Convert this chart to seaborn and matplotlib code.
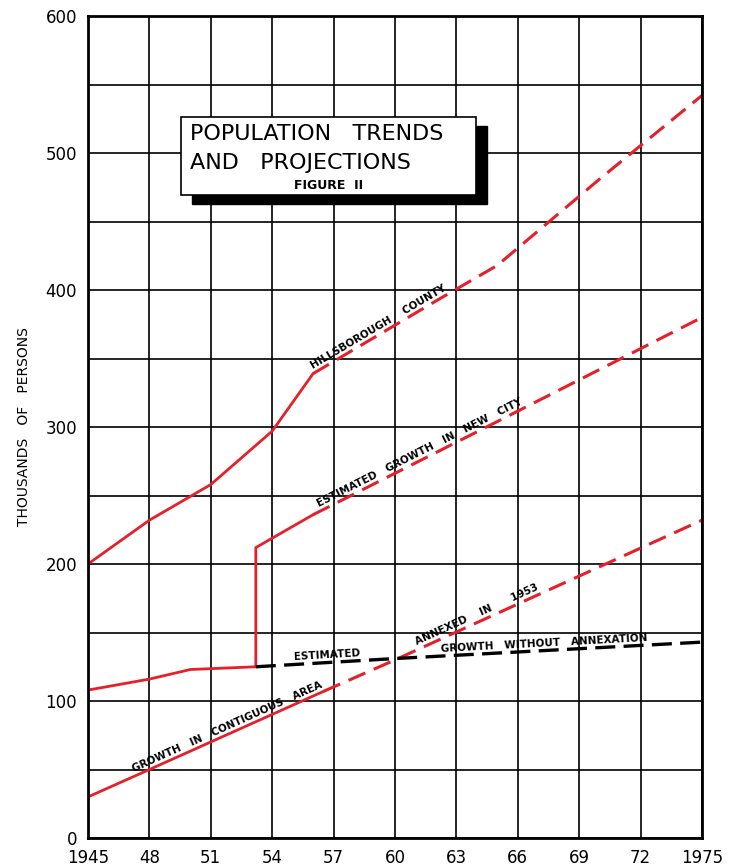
import numpy as np
import matplotlib
matplotlib.use("Agg")
import matplotlib.pyplot as plt
import seaborn as sns
from matplotlib.patches import Rectangle

# data (thousands of persons)
county_years = [1945, 1948, 1951, 1954, 1956]
county_pop = [200, 232, 258, 297, 339]
county_proj_years = [1956, 1962, 1965, 1970, 1975]
county_proj_pop = [339, 392, 418, 481, 542]

city_years = [1945, 1948, 1950, 1953.2, 1953.2, 1956]
city_pop = [108, 116, 123, 125, 212, 236]
city_proj_years = [1956, 1965, 1975]
city_proj_pop = [236, 304, 380]

noannex_years = [1953.2, 1960, 1975]
noannex_pop = [125, 131, 143]

contig_years = [1945, 1948, 1956.5]
contig_pop = [30, 50, 107]
contig_proj_years = [1956.5, 1960, 1975]
contig_proj_pop = [107, 130, 232]

x_ticks = list(range(1945, 1976, 3))
x_labels = ["1945", "48", "51", "54", "57", "60", "63", "66", "69", "72", "1975"]
y_ticks = [0, 100, 200, 300, 400, 500, 600]

RED = "#e5202a"

if __name__ == "__main__":
    sns.set_style("white")
    plt.rcParams['font.family'] = ['DejaVu Sans']
    plt.rcParams['text.color'] = 'black'
    plt.rcParams['axes.labelcolor'] = 'black'
    plt.rcParams['xtick.color'] = 'black'
    plt.rcParams['ytick.color'] = 'black'

    fig = plt.figure(figsize=(7.29, 8.66), dpi=100)
    ax = fig.add_axes([0.1207, 0.0323, 0.8422, 0.9492])

    # solid historical lines
    sns.lineplot(x=county_years, y=county_pop, ax=ax, color=RED, lw=2,
                 estimator=None, sort=False)
    sns.lineplot(x=city_years, y=city_pop, ax=ax, color=RED, lw=2,
                 estimator=None, sort=False)
    sns.lineplot(x=contig_years, y=contig_pop, ax=ax, color=RED, lw=2,
                 estimator=None, sort=False)

    # dashed projections
    for xs, ys in [(county_proj_years, county_proj_pop),
                   (city_proj_years, city_proj_pop),
                   (contig_proj_years, contig_proj_pop)]:
        sns.lineplot(x=xs, y=ys, ax=ax, color=RED, lw=2.2,
                     estimator=None, sort=False)
        ax.lines[-1].set_dashes((6, 3))
    sns.lineplot(x=noannex_years, y=noannex_pop, ax=ax, color="black", lw=2.4,
                 estimator=None, sort=False)
    ax.lines[-1].set_dashes((6, 2.5))

    ax.set_xlim(1945, 1975)
    ax.set_ylim(0, 600)
    ax.set_xticks(x_ticks)
    ax.set_xticklabels(x_labels)
    ax.set_yticks(y_ticks)
    ax.set_yticks(range(50, 600, 100), minor=True)
    ax.grid(which='both', color='black', lw=1.2)
    ax.tick_params(axis='both', which='major', direction='out', length=6,
                   width=1.5, labelsize=12, pad=2)
    ax.tick_params(axis='y', which='minor', length=0)
    for s in ax.spines.values():
        s.set_color('black')
        s.set_linewidth(2)
    ax.set_ylabel("THOUSANDS   OF   PERSONS", fontsize=10, labelpad=10)
    ax.set_xlabel("")

    # labels along the lines
    def line_label(text, xs, ys, at, span=1.0, off=2):
        y = np.interp(at, xs, ys)
        y2 = np.interp(at + span, xs, ys)
        y1 = np.interp(at - span, xs, ys)
        ang = np.degrees(np.arctan2(y2 - y1, 2 * span))
        ax.text(at, y + off, text, fontsize=7.5, fontweight='bold', color='black',
                ha='center', va='bottom', rotation=ang,
                rotation_mode='anchor', transform_rotates_text=True)

    line_label("HILLSBOROUGH    COUNTY", county_proj_years, county_proj_pop, 1959.3)
    line_label("ESTIMATED   GROWTH   IN   NEW   CITY", city_proj_years, city_proj_pop, 1961.3)
    line_label("GROWTH   IN   CONTIGUOUS   AREA", contig_years + contig_proj_years,
               contig_pop + contig_proj_pop, 1951.9)
    line_label("ANNEXED    IN      1953", contig_proj_years, contig_proj_pop, 1964.1)
    line_label("ESTIMATED", noannex_years, noannex_pop, 1956.7, off=1.5)
    line_label("GROWTH   WITHOUT   ANNEXATION", noannex_years, noannex_pop, 1967.3, off=1.5)

    # title box with drop shadow
    bx0, bx1, by0, by1 = 0.1515, 0.632, 0.782, 0.877
    ax.add_patch(Rectangle((bx0 + 0.018, by0 - 0.011), bx1 - bx0, by1 - by0,
                           transform=ax.transAxes, facecolor='black',
                           edgecolor='black', zorder=5))
    ax.add_patch(Rectangle((bx0, by0), bx1 - bx0, by1 - by0,
                           transform=ax.transAxes, facecolor='white',
                           edgecolor='black', lw=1.2, zorder=6))
    ax.text(bx0 + 0.015, 0.856, "POPULATION   TRENDS", transform=ax.transAxes,
            fontsize=16, ha='left', va='center', zorder=7)
    ax.text(bx0 + 0.015, 0.821, "AND   PROJECTIONS", transform=ax.transAxes,
            fontsize=16, ha='left', va='center', zorder=7)
    ax.text((bx0 + bx1) / 2, 0.794, "FIGURE  II", transform=ax.transAxes,
            fontsize=9, fontweight='bold', ha='center', va='center', zorder=7)

    plt.savefig('out.png', dpi=100)
